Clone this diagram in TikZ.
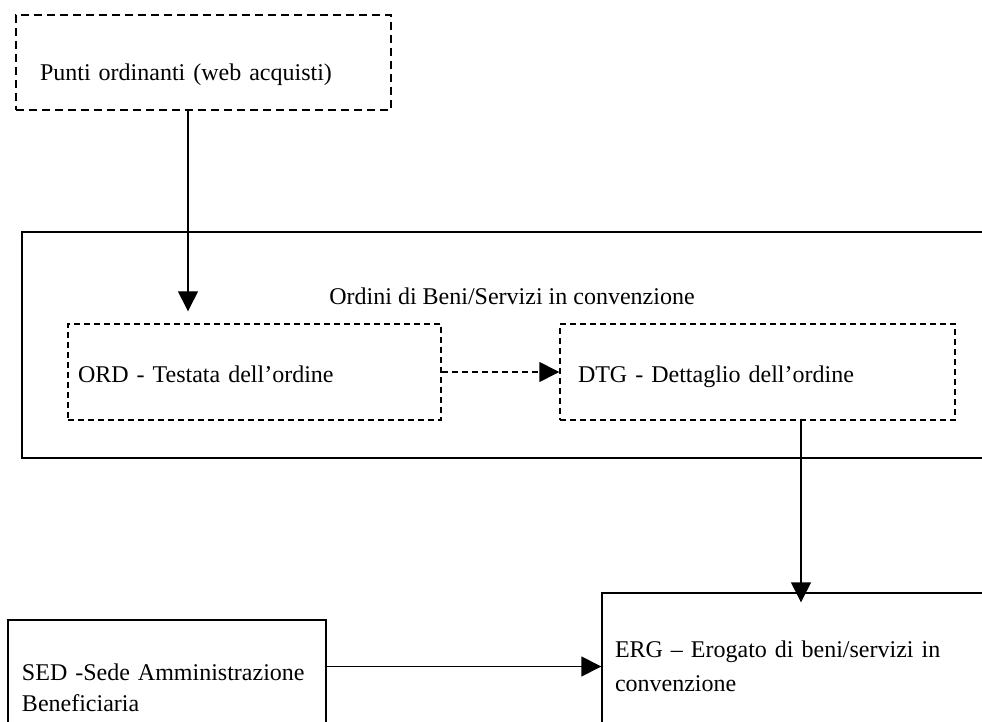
\documentclass[tikz,border=0pt]{standalone}
\usepackage{fontspec}
\setmainfont{Liberation Serif}
\usetikzlibrary{arrows.meta}
\begin{document}
\begin{tikzpicture}[x=0.5pt, y=-0.5pt, font=\fontsize{12}{17}\selectfont,
  box/.style={rectangle, draw, line width=0.7pt, align=left, inner ysep=0pt},
  tratteggio/.style={dash pattern=on 4pt off 2.5pt},
  freccia/.style={-{Triangle[length=10pt,width=10pt]}, line width=0.7pt}]
  \useasboundingbox (0,0) rectangle (982,722);
  \clip (0,0) rectangle (982,722);

  \node[box, tratteggio, line width=0.9pt, minimum width=187.5pt, minimum height=47.5pt, text width=163.5pt, inner xsep=12pt, text height=18.5pt, text depth=0pt] (punti) at (203.5,62.5) {Punti ordinanti (web acquisti)};

  \node[box, minimum width=489pt, minimum height=113pt] (ordini) at (511,345) {};
  \node (titolo) at (512,296) {Ordini di Beni/Servizi in convenzione};
  \node[box, tratteggio, dash pattern=on 3pt off 2pt, minimum width=186.5pt, minimum height=48pt, text width=176.5pt, inner xsep=5pt, text height=11pt, text depth=0pt] (ord) at (254.5,372) {ORD - Testata dell’ordine};
  \node[box, tratteggio, dash pattern=on 3pt off 2pt, minimum width=197.5pt, minimum height=48pt, text width=179.5pt, inner xsep=9pt, text height=11pt, text depth=0pt] (dtg) at (757.5,372) {DTG - Dettaglio dell’ordine};

  \node[box, minimum width=199pt, minimum height=73.5pt, text width=186pt, inner xsep=6.5pt] (erg) at (801,666.5) {ERG – Erogato di beni/servizi in\\convenzione};
  \node[box, font=\fontsize{12}{15.5}\selectfont, minimum width=159pt, minimum height=68pt, text width=145pt, inner xsep=7pt] (sed) at (167,688) {SED -Sede Amministrazione\\Beneficiaria};

  \draw[freccia] ([xshift=-7.75pt]punti.south) -- ([xshift=-33.25pt,yshift=6pt]ord.north);
  \draw[freccia, dash pattern=on 3pt off 2pt] (ord.east) -- (dtg.west);
  \draw[freccia, shorten >=-5pt] ([xshift=21.75pt]dtg.south) -- ([xshift=21.75pt]dtg.south |- erg.north);
  \draw[freccia] (sed.east |- erg.west) -- (erg.west);
\end{tikzpicture}
\end{document}
